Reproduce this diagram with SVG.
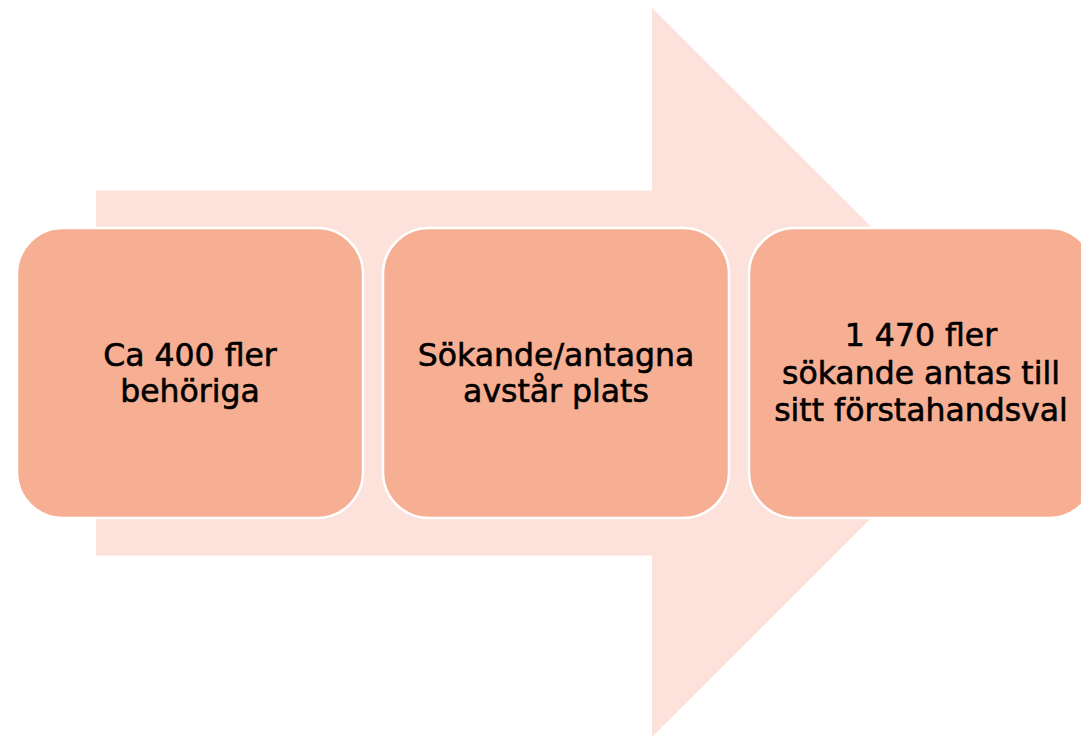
<svg xmlns="http://www.w3.org/2000/svg" width="1081" height="737" viewBox="0 0 1081 737">
  <style>
    .box { fill: #F7AF93; stroke: #FFFFFF; stroke-width: 2.5; }
    .lbl { font-family: "DejaVu Sans", "Liberation Sans", sans-serif; font-size: 31.5px; fill: #000000; stroke: #000000; stroke-width: 0.6; text-anchor: middle; }
  </style>
  <rect width="1081" height="737" fill="#FFFFFF"/>
  <g id="arrow">
    <polygon points="96,190.5 652,190.5 652,8 1017,372.5 652,737 652,555.5 96,555.5" fill="#FCE2DB"/>
  </g>
  <g id="connectors"></g>
  <g id="node1">
    <rect class="box" x="17" y="228" width="346" height="290" rx="46" ry="46"/>
    <text class="lbl" x="190" y="366">Ca 400 fler</text>
    <text class="lbl" x="190" y="402">behöriga</text>
  </g>
  <g id="node2">
    <rect class="box" x="383" y="228" width="346" height="290" rx="46" ry="46"/>
    <text class="lbl" x="556" y="366">Sökande/antagna</text>
    <text class="lbl" x="556" y="402">avstår plats</text>
  </g>
  <g id="node3">
    <rect class="box" x="749" y="228" width="346" height="290" rx="46" ry="46"/>
    <text class="lbl" x="921" y="346">1 470 fler</text>
    <text class="lbl" x="921" y="384">sökande antas till</text>
    <text class="lbl" x="921" y="421">sitt förstahandsval</text>
  </g>
</svg>
